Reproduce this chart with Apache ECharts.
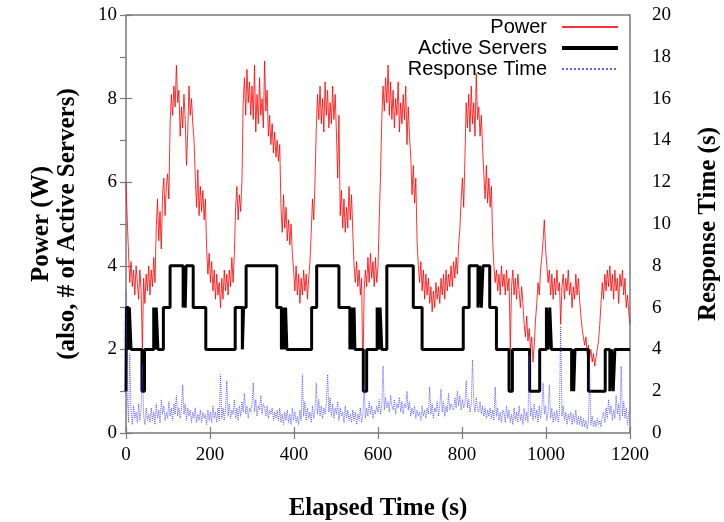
<!DOCTYPE html>
<html>
<head>
<meta charset="utf-8">
<script src="https://cdn.jsdelivr.net/npm/echarts@6/dist/echarts.min.js"></script>
<style>
html, body { margin: 0; padding: 0; background: #fff; }
#chart1 { width: 724px; height: 522px; }
</style>
</head>
<body>
<div id="chart1"></div>
<script>
// 初始化echarts实例
let chart1 = echarts.init(document.getElementById("chart1"));

// sampling step of the power / response traces (s)
let step = 3;

// power (W), one value every 3 s from 0 to 1200 (one row = 60 s)
let powerW = [
    6.0, 5.1, 4.3, 3.6, 4.1, 3.5, 3.9, 3.3, 4.0, 3.6, 3.2, 3.9, 3.4, 2.0, 3.7, 3.1, 3.8, 3.4, 4.0, 3.3,
    3.9, 3.5, 4.2, 3.6, 4.9, 5.6, 4.6, 5.3, 4.4, 5.7, 6.1, 5.2, 5.9, 6.2, 5.6, 7.4, 8.1, 7.6, 8.3, 7.8,
    8.8, 7.9, 8.2, 7.1, 7.8, 7.3, 8.1, 7.5, 6.4, 7.2, 8.3, 7.6, 8.0, 7.4, 7.0, 6.1, 5.4, 6.3, 5.2, 5.9,
    5.3, 5.8, 5.1, 5.6, 4.4, 3.8, 4.3, 3.6, 4.1, 3.4, 3.9, 3.2, 3.8, 3.3, 3.6, 3.0, 3.7, 3.2, 3.9, 3.4,
    3.8, 3.3, 3.9, 3.5, 4.2, 3.6, 4.3, 5.4, 5.9, 5.1, 5.7, 5.3, 6.0, 7.9, 8.5, 7.6, 8.7, 7.9, 8.4, 7.6,
    8.3, 7.5, 8.8, 7.2, 8.1, 7.4, 8.5, 7.6, 8.0, 7.3, 8.9, 7.7, 8.2, 7.1, 7.6, 6.9, 7.4, 6.7, 7.2, 6.6,
    7.0, 6.5, 6.9, 5.4, 4.8, 5.7, 4.9, 5.4, 4.6, 5.1, 4.5, 5.0, 4.3, 3.9, 3.4, 4.0, 3.3, 3.8, 3.1, 3.7,
    3.3, 3.9, 3.4, 3.8, 3.2, 3.7, 4.1, 4.8, 5.6, 5.1, 6.0, 7.3, 8.1, 7.5, 8.3, 7.4, 8.0, 7.2, 8.4, 7.6,
    8.2, 7.3, 7.9, 7.4, 8.3, 7.5, 8.1, 7.2, 6.1, 7.6, 5.2, 5.8, 4.9, 5.6, 4.8, 5.4, 4.9, 5.9, 5.1, 5.7,
    4.8, 4.0, 3.6, 4.1, 3.5, 3.9, 3.3, 3.7, 1.3, 3.4, 3.9, 3.5, 4.2, 3.6, 4.3, 3.7, 4.1, 3.5, 4.2, 3.6,
    4.0, 5.1, 6.2, 7.5, 8.3, 7.7, 8.5, 7.9, 8.8, 7.6, 8.4, 7.5, 8.2, 7.3, 8.0, 7.6, 8.4, 7.2, 7.9, 7.4,
    8.1, 7.5, 8.3, 6.9, 7.8, 7.1, 6.6, 5.7, 6.4, 5.5, 6.1, 4.6, 4.0, 3.6, 4.1, 3.4, 3.9, 3.2, 3.8, 3.3,
    3.7, 3.1, 3.5, 2.9, 3.4, 3.0, 3.6, 3.2, 3.5, 3.1, 3.7, 3.3, 3.8, 3.2, 3.9, 3.4, 3.8, 3.5, 4.0, 3.5,
    4.1, 3.7, 4.2, 3.8, 4.5, 4.9, 5.6, 6.1, 5.4, 6.6, 7.9, 7.3, 8.1, 7.2, 8.3, 7.4, 7.9, 7.1, 8.6, 7.5,
    7.8, 7.1, 7.6, 6.8, 6.2, 5.6, 6.4, 5.5, 6.1, 5.4, 5.9, 4.6, 4.0, 3.6, 3.9, 3.4, 3.8, 3.3, 4.0, 3.5,
    3.8, 3.3, 3.9, 3.4, 3.7, 2.0, 3.5, 3.9, 3.3, 3.7, 3.2, 3.8, 3.4, 3.0, 3.5, 3.1, 2.6, 2.3, 2.8, 2.2,
    2.5, 2.0, 2.3, 1.7, 2.1, 2.7, 3.1, 3.6, 3.3, 3.9, 4.2, 4.6, 5.1, 4.4, 4.0, 3.6, 3.9, 3.3, 3.8, 3.2,
    3.7, 3.3, 3.9, 3.4, 3.6, 2.6, 3.5, 3.8, 3.2, 3.7, 3.4, 3.9, 3.3, 3.6, 3.0, 3.5, 3.2, 3.8, 3.3, 3.7,
    3.2, 2.8, 2.5, 2.3, 2.1, 2.3, 1.9, 2.1, 1.8, 2.0, 1.7, 1.9, 1.6, 1.8, 2.0, 2.2, 2.6, 3.1, 3.6, 3.2,
    3.8, 3.4, 3.9, 3.5, 4.0, 3.4, 3.8, 3.2, 3.9, 3.4, 3.7, 3.1, 3.8, 3.5, 3.9, 3.3, 3.7, 3.0, 3.3, 2.9,
    2.6
];

// response time (s), one value every 3 s from 0 to 1200 (one row = 60 s)
let responseS = [
    6.8, 1.9, 0.5, 3.8, 1.1, 0.4, 1.3, 0.7, 1.0, 0.5, 1.4, 0.6, 1.1, 3.3, 0.8, 0.4, 1.2, 0.6, 0.9, 0.5,
    1.2, 0.6, 1.0, 0.4, 1.4, 0.7, 1.1, 0.5, 1.6, 0.9, 1.3, 0.6, 1.0, 0.7, 1.5, 0.8, 1.2, 0.6, 1.4, 0.9,
    1.8, 0.8, 1.2, 0.7, 1.1, 2.3, 0.9, 1.4, 0.6, 1.2, 0.8, 1.1, 0.5, 1.0, 0.7, 1.2, 0.5, 0.9, 0.6, 1.1,
    0.5, 1.0, 0.7, 0.9, 0.4, 1.1, 0.6, 1.0, 0.5, 1.3, 0.7, 1.0, 0.5, 1.2, 0.6, 2.8, 0.7, 1.2, 0.6, 1.1,
    2.5, 0.8, 1.4, 0.7, 1.1, 0.9, 1.6, 0.7, 1.2, 0.6, 1.3, 0.8, 1.5, 1.0, 1.9, 0.9, 1.3, 0.7, 1.2, 1.0,
    1.4, 2.4, 1.0, 1.6, 0.8, 1.3, 1.1, 1.8, 0.9, 1.4, 1.2, 0.8, 1.3, 0.7, 1.1, 0.9, 1.2, 0.6, 1.0, 0.7,
    1.1, 0.6, 1.2, 0.5, 0.9, 0.4, 1.0, 0.6, 1.1, 0.5, 0.9, 0.4, 1.2, 0.6, 1.0, 0.5, 0.8, 0.4, 1.1, 0.6,
    2.8, 0.8, 1.5, 0.6, 1.2, 0.7, 1.0, 0.5, 1.3, 0.7, 1.1, 2.4, 0.9, 1.6, 0.8, 1.3, 0.7, 1.2, 0.9, 1.4,
    2.8, 1.0, 1.7, 0.8, 1.4, 0.7, 1.2, 0.9, 1.5, 0.6, 1.2, 0.8, 1.0, 0.5, 1.3, 0.7, 1.1, 0.6, 0.9, 0.5,
    1.1, 0.6, 1.0, 0.4, 0.9, 0.6, 1.2, 0.5, 0.8, 2.3, 0.7, 1.2, 0.8, 1.5, 0.9, 1.3, 0.7, 1.1, 0.9, 1.3,
    1.0, 1.6, 0.9, 1.3, 3.2, 1.1, 1.7, 1.2, 1.5, 1.0, 1.8, 1.3, 1.1, 1.6, 0.9, 1.4, 1.2, 1.7, 1.0, 1.5,
    0.9, 1.4, 1.2, 2.0, 1.1, 1.5, 0.8, 1.2, 0.9, 1.3, 0.7, 1.1, 0.8, 1.0, 0.6, 1.3, 0.8, 1.1, 0.7, 1.2,
    0.9, 2.2, 0.9, 1.4, 0.7, 1.2, 1.0, 1.5, 0.8, 1.3, 2.1, 1.0, 1.5, 0.8, 1.3, 1.0, 1.9, 1.1, 1.4, 1.2,
    1.1, 1.7, 1.2, 2.0, 1.3, 1.8, 1.1, 1.6, 1.2, 1.4, 2.5, 1.2, 1.6, 1.0, 1.4, 3.5, 1.4, 1.0, 1.7, 1.1,
    1.0, 1.5, 0.9, 1.3, 0.8, 1.2, 0.7, 1.1, 0.8, 1.2, 0.7, 1.1, 0.6, 2.2, 0.8, 1.2, 0.6, 1.0, 0.5, 1.1,
    1.0, 0.5, 1.3, 0.7, 1.1, 0.5, 0.9, 0.4, 1.2, 0.6, 1.0, 0.5, 1.3, 0.6, 0.9, 0.4, 1.2, 0.6, 1.0, 0.5,
    3.7, 0.8, 1.2, 0.6, 1.4, 0.7, 1.1, 0.5, 1.3, 0.7, 1.1, 2.4, 0.9, 1.3, 0.6, 1.0, 2.3, 0.7, 1.2, 0.5,
    1.0, 0.6, 1.1, 0.5, 0.9, 5.1, 0.8, 1.3, 0.6, 1.0, 0.4, 0.9, 0.6, 1.0, 0.4, 0.9, 0.5, 1.1, 0.4, 0.8,
    0.4, 0.8, 0.3, 0.7, 0.3, 0.6, 0.2, 0.5, 2.9, 0.4, 0.8, 0.3, 0.6, 0.3, 0.7, 0.4, 0.6, 0.3, 0.8, 1.0,
    0.5, 1.2, 0.7, 1.6, 0.9, 1.3, 0.6, 1.1, 0.7, 1.8, 0.9, 1.4, 0.6, 3.2, 0.8, 1.5, 0.7, 1.2, 0.4, 1.0,
    1.0
];

// active servers: [time (s), count held from that time on]
let servers = [
    [0, 1], [1, 3], [6, 2], [8, 3], [12, 2], [38, 1], [44, 2], [66, 3], [69, 2], [72, 3], [76, 2],
    [89, 3], [105, 4], [136, 3], [138, 4], [141, 3], [143, 4], [160, 3], [190, 2], [260, 3], [277, 2],
    [280, 3], [286, 4], [359, 3], [370, 2], [373, 3], [377, 2], [380, 3], [383, 2], [442, 3], [454, 4],
    [507, 3], [533, 2], [536, 3], [540, 2], [543, 3], [545, 2], [565, 1], [573, 2], [598, 3], [602, 2],
    [605, 3], [609, 2], [621, 4], [684, 3], [705, 2], [803, 3], [817, 4], [838, 3], [842, 4], [846, 3],
    [850, 4], [866, 3], [882, 2], [912, 1], [920, 2], [961, 1], [985, 2], [1001, 3], [1005, 2], [1009, 3],
    [1013, 2], [1061, 1], [1064, 2], [1066, 1], [1069, 2], [1101, 1], [1141, 2], [1152, 1], [1156, 2],
    [1160, 1], [1164, 2], [1200, 2]
];

let xTicks = [0, 1200, 200];

let serif = '"Liberation Serif", "DejaVu Serif", serif';
let frame = '#7a7a7a';
let plain = function (v) { return String(v); };

let option = {
    backgroundColor: '#fff',
    animation: false,
    grid: {
        left: 126, right: 94, top: 15, bottom: 89,
        outerBoundsMode: 'none',
        containLabel: false,
        show: true,
        borderColor: frame,
        borderWidth: 1.5
    },
    legend: {
        orient: 'vertical',
        right: 99,
        top: 12,
        align: 'right',
        itemWidth: 56,
        itemHeight: 14,
        itemGap: 1,
        itemStyle: { opacity: 0 },
        textStyle: {
            fontFamily: '"Liberation Sans", Arial, sans-serif',
            fontSize: 20,
            lineHeight: 20,
            color: '#000',
            padding: [0, 10, 0, 0]
        },
        data: ['Power', { name: 'Active Servers', lineStyle: { width: 4 } }, 'Response Time']
    },
    xAxis: [{
        type: 'value',
        min: xTicks[0], max: xTicks[1], interval: xTicks[2],
        name: 'Elapsed Time (s)',
        nameLocation: 'middle',
        nameGap: 63,
        nameTextStyle: { fontFamily: serif, fontWeight: 'bold', fontSize: 25, color: '#000' },
        axisLine: { show: false },
        axisTick: { inside: true, length: 6, lineStyle: { color: frame, width: 1.2 } },
        axisLabel: { fontFamily: serif, fontSize: 19, color: '#000', margin: 13, formatter: plain },
        splitLine: { show: false }
    }, {
        type: 'value',
        position: 'top',
        min: xTicks[0], max: xTicks[1], interval: xTicks[2],
        axisLine: { show: false },
        axisTick: { inside: true, length: 6, lineStyle: { color: frame, width: 1.2 } },
        axisLabel: { show: false },
        splitLine: { show: false }
    }],
    yAxis: [{
        type: 'value',
        min: 0, max: 10, interval: 2,
        name: 'Power (W)\n(also, # of Active Servers)',
        nameLocation: 'middle',
        nameRotate: 90,
        nameGap: 45,
        nameTextStyle: { fontFamily: serif, fontWeight: 'bold', fontSize: 25, lineHeight: 26, color: '#000' },
        axisLine: { show: false },
        axisTick: { inside: true, length: 6, lineStyle: { color: frame, width: 1.2 } },
        axisLabel: { fontFamily: serif, fontSize: 19, color: '#000', margin: 9, formatter: plain },
        splitLine: { show: false }
    }, {
        type: 'value',
        position: 'right',
        min: 0, max: 20, interval: 2,
        name: 'Response Time (s)',
        nameLocation: 'middle',
        nameRotate: 90,
        nameGap: 66,
        nameTextStyle: { fontFamily: serif, fontWeight: 'bold', fontSize: 25, color: '#000' },
        axisLine: { show: false },
        axisTick: { inside: true, length: 6, lineStyle: { color: frame, width: 1.2 } },
        axisLabel: { fontFamily: serif, fontSize: 19, color: '#000', margin: 22, formatter: plain },
        splitLine: { show: false }
    }],
    series: [{
        name: 'Power',
        type: 'line',
        yAxisIndex: 0,
        symbol: 'none',
        color: '#ff0000',
        lineStyle: { color: '#ff0000', width: 1, opacity: 0.8 },
        data: powerW.map((v, i) => [i * step, v])
    }, {
        name: 'Active Servers',
        type: 'line',
        yAxisIndex: 0,
        step: 'end',
        symbol: 'none',
        color: '#000',
        lineStyle: { color: '#000', width: 3 },
        data: servers
    }, {
        name: 'Response Time',
        type: 'line',
        yAxisIndex: 1,
        symbol: 'none',
        color: '#3a3aff',
        lineStyle: { color: '#3a3aff', width: 1, type: 'dotted', opacity: 0.8 },
        data: responseS.map((v, i) => [i * step, v])
    }]
};
window.onresize = chart1.resize;
chart1.setOption(option);
</script>
</body>
</html>
